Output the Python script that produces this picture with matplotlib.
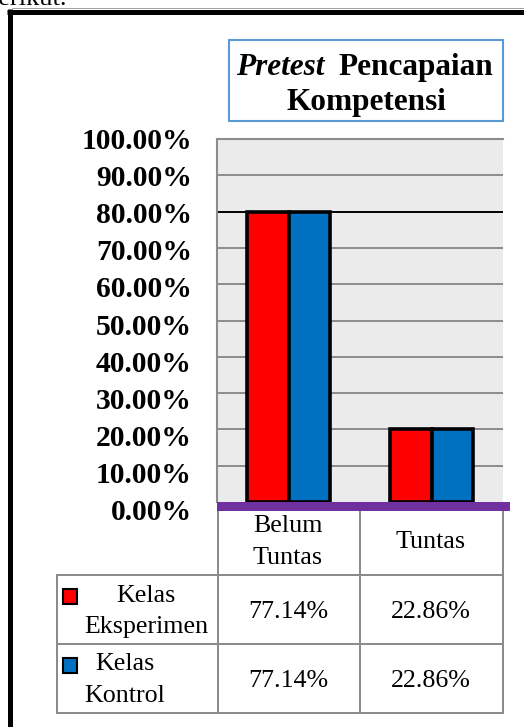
import numpy as np
import matplotlib.pyplot as plt
from matplotlib.patches import Rectangle
from matplotlib.lines import Line2D

W, H = 524, 727

# --- Data ---
categories = ['Belum Tuntas', 'Tuntas']
series = ['Kelas Eksperimen', 'Kelas Kontrol']
colors = ['#FF0000', '#0070C0']
# bar heights as they are drawn in the picture
bar_eksperimen = [80, 20]
bar_kontrol = [80, 20]
# values printed in the data table
tabel_eksperimen = [77.14, 22.86]
tabel_kontrol = [77.14, 22.86]
yticks = np.arange(0, 101, 10)

plt.rcParams['font.family'] = ['Liberation Serif', 'DejaVu Serif']

fig = plt.figure(figsize=(W / 100, H / 100), dpi=100)


# --- Helpers (pixel coords, origin top-left) ---
def fx(x):
    return x / W


def fy(y):
    return 1 - y / H


def line(x0, x1, y0, y1, color, lw, z=5):
    fig.add_artist(Line2D([fx(x0), fx(x1)], [fy(y0), fy(y1)], transform=fig.transFigure,
                          color=color, lw=lw * 0.72, zorder=z, solid_capstyle='butt'))


def rect(x0, y0, x1, y1, z=5, **kw):
    fig.add_artist(Rectangle((fx(x0), fy(y1)), fx(x1) - fx(x0), fy(y0) - fy(y1),
                             transform=fig.transFigure, zorder=z, **kw))


def txt(x, y, s, **kw):
    fig.text(fx(x), fy(y), s, va='baseline', zorder=7, **kw)


# --- Page frame ---
txt(67, 5, 'berikut.', ha='right', fontsize=19)
line(12, 524, 8, 8, '#A0A0A0', 1)
line(7, 524, 11.5, 11.5, 'black', 5)
line(9.5, 9.5, 9, 727, 'black', 5)

# --- Title ---
rect(229, 40, 503, 121, facecolor='white', edgecolor='#5B9BD5', lw=1.5)
txt(236, 75, 'Pretest', ha='left', fontsize=22.5, fontweight='bold', fontstyle='italic')
txt(493, 75, 'Pencapaian', ha='right', fontsize=22.5, fontweight='bold')
txt(366, 110, 'Kompetensi', ha='center', fontsize=22.5, fontweight='bold')

# --- Chart ---
ax = fig.add_axes([fx(217), fy(502), (503 - 217) / W, (502 - 139) / H])
ax.set_facecolor('#EBEBEB')
ax.set_xlim(-0.5, 1.5)
ax.set_ylim(0, 100)
for v in yticks[1:-1]:
    ax.axhline(v, color='black' if v == 80 else '#8C8C8C', lw=1.4, zorder=1)

x = np.arange(len(categories))
w = 0.29
ax.bar(x - w / 2, bar_eksperimen, w, color=colors[0], edgecolor='black', lw=2.6, zorder=3)
ax.bar(x + w / 2, bar_kontrol, w, color=colors[1], edgecolor='black', lw=2.6, zorder=3)

ax.set_xticks([])
ax.set_yticks([])
for s in ['right', 'bottom']:
    ax.spines[s].set_visible(False)
for s in ['top', 'left']:
    ax.spines[s].set_color('#8C8C8C')
    ax.spines[s].set_linewidth(1.5)

# y labels
for v in yticks:
    yc = 510 - v * 3.71
    txt(192, yc + 10, f'{v:.2f}%', ha='right', fontsize=21.3, fontweight='bold')

# purple baseline
rect(217, 502, 510, 511, z=6, facecolor='#7030A0', edgecolor='none')

# --- Data table ---
grey = '#8C8C8C'
line(217.5, 217.5, 502, 713, grey, 2)
line(359.5, 359.5, 511, 713, grey, 2)
line(502.5, 502.5, 511, 713, grey, 2)
line(56.5, 56.5, 574, 714, grey, 2)
for yy in [575, 644, 713]:
    line(56, 503.5, yy, yy, grey, 2)

col_x = [288, 431]
for cx, cat in zip(col_x, categories):
    parts = cat.split()
    n = len(parts)
    for i, p in enumerate(parts):
        txt(cx, 541 + (i - (n - 1) / 2) * 31 + 7, p, ha='center', fontsize=18.7)

row_y = [609.5, 678.5]
legend_x = [146, 125]
for ry, lx, name, col, vals in zip(row_y, legend_x, series, colors,
                                   [tabel_eksperimen, tabel_kontrol]):
    rect(63, ry - 20.5, 77, ry - 5.5, facecolor=col, edgecolor='black', lw=1.5)
    parts = name.split()
    for i, p in enumerate(parts):
        txt(lx, ry + (i - 0.5) * 31 + 7.5, p, ha='center', fontsize=18.7)
    for cx, v in zip(col_x, vals):
        txt(cx, ry + 8.5, f'{v:.2f}%', ha='center', fontsize=18.7)

fig.savefig('out.png', dpi=100)
